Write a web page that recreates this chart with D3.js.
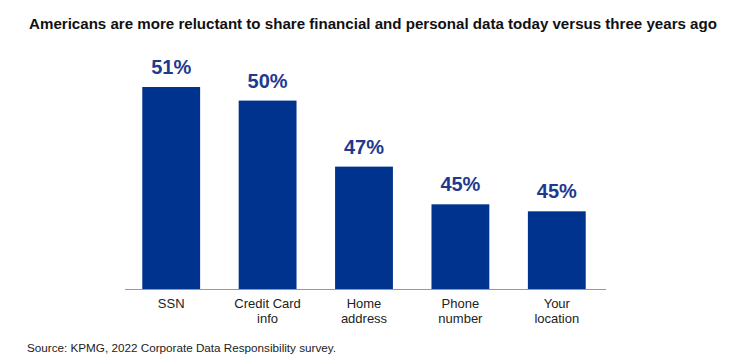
<html>
<head>
  <script src="https://cdnjs.cloudflare.com/ajax/libs/d3/7.8.5/d3.min.js"></script>
  <style>
    body { margin: 0; background: #fff; font-family: "Liberation Sans", Arial, sans-serif; }
  </style>
</head>
<body>
<script>
  var categories = [["SSN"], ["Credit Card", "info"], ["Home", "address"], ["Phone", "number"], ["Your", "location"]];
  var labels = ["51%", "50%", "47%", "45%", "45%"];
  // bar heights (the axis does not start at zero)
  var values = [51, 50.3, 46.9, 44.96, 44.6];

  var width = 753, height = 361;
  var svg = d3.select("body").append("svg")
    .attr("width", width)
    .attr("height", height);

  svg.append("text")
    .attr("x", 373)
    .attr("y", 29)
    .attr("text-anchor", "middle")
    .style("font-weight", "bold")
    .style("font-size", "15.1px")
    .attr("fill", "#111")
    .text("Americans are more reluctant to share financial and personal data today versus three years ago");

  var x = d3.scaleBand()
    .domain(d3.range(categories.length))
    .range([123, 605])
    .paddingInner(0.4)
    .paddingOuter(0.2);

  var y = d3.scaleLinear()
    .domain([40.6, 51])
    .range([289, 87]);

  svg.selectAll(".bar")
    .data(values)
    .enter()
    .append("rect")
    .attr("class", "bar")
    .attr("x", function(d, i) { return x(i); })
    .attr("width", x.bandwidth())
    .attr("y", function(d) { return y(d); })
    .attr("height", function(d) { return y(40.6) - y(d); })
    .attr("fill", "#00338d");

  svg.selectAll(".val")
    .data(values)
    .enter()
    .append("text")
    .attr("class", "val")
    .attr("x", function(d, i) { return x(i) + x.bandwidth() / 2; })
    .attr("y", function(d) { return y(d) - 13; })
    .attr("text-anchor", "middle")
    .style("font-weight", "bold")
    .style("font-size", "20px")
    .attr("fill", "#1e3a8f")
    .text(function(d, i) { return labels[i]; });

  svg.append("line")
    .attr("x1", 125).attr("x2", 606)
    .attr("y1", 289.5).attr("y2", 289.5)
    .attr("stroke", "#999")
    .attr("stroke-width", 1);

  var cats = svg.selectAll(".cat")
    .data(categories)
    .enter()
    .append("text")
    .attr("class", "cat")
    .attr("text-anchor", "middle")
    .style("font-size", "13px")
    .attr("fill", "#222");

  cats.selectAll("tspan")
    .data(function(d, i) { return d.map(function(t) { return { t: t, i: i }; }); })
    .enter()
    .append("tspan")
    .attr("x", function(d) { return x(d.i) + x.bandwidth() / 2; })
    .attr("y", function(d, j) { return 308 + j * 15; })
    .text(function(d) { return d.t; });

  svg.append("text")
    .attr("x", 27)
    .attr("y", 352)
    .style("font-size", "11.7px")
    .attr("fill", "#222")
    .text("Source: KPMG, 2022 Corporate Data Responsibility survey.");
</script>
</body>
</html>
